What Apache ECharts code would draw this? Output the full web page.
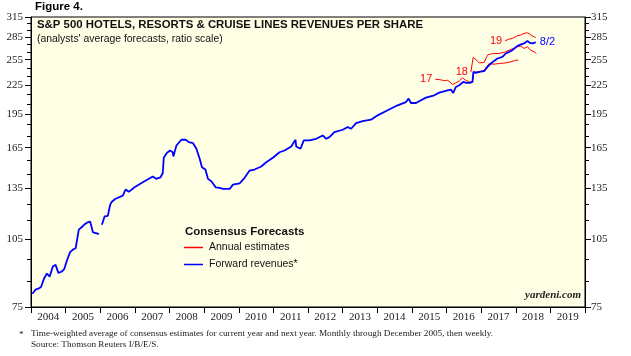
<!DOCTYPE html>
<html><head><meta charset="utf-8">
<script src="https://cdn.jsdelivr.net/npm/echarts@6/dist/echarts.min.js"></script>
<style>html,body{margin:0;padding:0;background:#fff}#c{width:631px;height:356px}</style>
</head><body><div id="c"></div>
<script>
// ---------- DATA ----------
const yearLabels = [2004,2005,2006,2007,2008,2009,2010,2011,2012,2013,2014,2015,2016,2017,2018,2019];
const yMajorTicks = [75,105,135,165,195,225,255,285,315];
const yMinorTicks = [85,95,115,125,145,155,175,185,205,215,235,245,265,275,295,305];

// Forward revenues, monthly 2004-2005
const monthlyDates = [2004.04,2004.13,2004.21,2004.29,2004.38,2004.46,2004.54,2004.63,2004.71,2004.79,2004.88,2004.96,
  2005.04,2005.13,2005.21,2005.29,2005.38,2005.46,2005.54,2005.63,2005.71,2005.79,2005.88,2005.96];
const monthlyValues = [80.1,81.7,82.1,82.8,86.5,88.5,87.2,91.6,92.4,88.8,89.3,90.5,
  94.5,98.4,99.6,100.3,110.0,111.3,112.8,114.0,114.4,108.5,108.1,107.6];

// Forward revenues, weekly from 2006
const weeklyDates = [2006.047,2006.084,2006.125,2006.220,2006.240,2006.286,2006.335,2006.430,2006.652,2006.730,2006.825,2006.989,
  2007.229,2007.517,2007.612,2007.739,2007.805,2007.834,2007.929,2008.016,2008.093,2008.113,2008.151,2008.200,2008.238,2008.344,
  2008.468,2008.555,2008.679,2008.777,2008.872,2008.938,2009.036,2009.111,2009.209,2009.333,2009.448,2009.543,2009.737,2009.832,
  2010.025,2010.169,2010.313,2010.457,2010.650,2010.794,2011.005,2011.178,2011.322,2011.515,2011.639,2011.659,2011.783,2011.878,
  2012.043,2012.236,2012.426,2012.524,2012.619,2012.763,2013.003,2013.147,2013.245,2013.389,2013.579,2013.821,2014.012,2014.300,
  2014.588,2014.830,2014.905,2014.975,2015.119,2015.263,2015.407,2015.646,2015.790,2016.029,2016.127,2016.194,2016.271,2016.367,
  2016.482,2016.577,2016.675,2016.750,2016.779,2016.848,2016.943,2017.087,2017.183,2017.281,2017.375,2017.471,2017.520,2017.615,
  2017.713,2017.808,2017.903,2018.018,2018.096,2018.145,2018.240,2018.336,2018.405,2018.480,2018.578];
const weeklyValues = [112.7,112.0,117.4,117.8,116.8,124.5,126.3,128.0,130.1,134.1,132.6,135.6,
  139.0,143.0,141.4,142.5,145.4,156.9,160.9,162.7,161.3,158.0,161.9,166.8,168.2,171.6,
  171.6,169.6,168.7,164.1,156.2,149.8,148.1,141.4,139.7,135.6,135.2,134.5,134.5,137.4,
  138.3,142.1,147.3,148.1,150.3,153.5,157.4,161.3,162.7,166.0,171.6,166.0,164.1,171.0,
  171.0,172.4,175.3,172.4,173.8,178.2,180.3,182.7,181.2,186.3,188.2,189.5,193.6,198.5,
  203.5,206.8,210.3,205.8,205.8,208.6,211.4,213.8,216.7,219.2,219.9,216.3,222.8,224.7,
  228.4,227.3,227.3,228.4,240.0,238.8,240.0,240.9,246.1,250.2,253.5,256.5,254.4,258.6,
  263.0,265.1,267.3,271.8,274.1,271.8,276.4,279.6,277.2,276.4,277.8];

// Annual estimates
const est17Dates = [2015.675,2015.790,2015.934,2016.029,2016.098,2016.173,2016.271,2016.367,2016.462,2016.560,2016.655,2016.750,
  2016.779,2016.943,2017.087,2017.231,2017.375,2017.520,2017.713,2017.857,2018.001,2018.076];
const est17Values = [231.5,231.1,230.0,230.3,228.4,225.5,227.3,229.5,233.0,230.3,228.4,228.4,
  240.0,240.0,242.1,250.2,249.4,250.2,251.0,252.3,254.4,254.4];
const est18Dates = [2016.704,2016.750,2016.770,2016.848,2016.943,2017.087,2017.183,2017.327,2017.520,2017.713,2017.808,2017.952,
  2018.047,2018.145,2018.240,2018.336,2018.434,2018.530,2018.596];
const est18Values = [240.0,242.1,257.8,255.3,251.0,251.5,260.8,263.0,263.0,265.1,267.3,270.0,
  271.8,272.7,269.6,271.8,267.3,265.1,263.0];
const est19Dates = [2017.693,2017.808,2017.903,2018.047,2018.145,2018.240,2018.336,2018.405,2018.480,2018.578];
const est19Values = [280.0,282.4,283.3,287.0,288.0,290.5,291.3,289.5,286.6,284.7];

// ---------- CHART ----------
const LN = Math.log;
const pairs = (d, v) => d.map((x, i) => [x, LN(v[i])]);
const SERIF = "'Liberation Serif','Times New Roman',serif";
const SANS = "'Liberation Sans',Arial,sans-serif";
const BLUE = '#0000FF', RED = '#FF0000';
const yMin = LN(75), yMax = LN(315);

const yAx = (grid, pos, ticks, len, labels) => ({
  type: 'value', gridIndex: grid, position: pos, min: yMin, max: yMax,
  axisLine: {show: labels, lineStyle: {color: '#000', width: 1}},
  splitLine: {show: false},
  axisTick: {show: true, customValues: ticks.map(LN), length: len, lineStyle: {color: '#000'}},
  axisLabel: labels ? {show: true, customValues: ticks.map(LN), formatter: v => String(Math.round(Math.exp(v))),
    fontFamily: SERIF, fontSize: 11, color: '#222', margin: pos === 'left' ? 8 : 6} : {show: false}
});

const lineS = (name, data, color, width, extra) => Object.assign({
  type: 'line', name, data, showSymbol: false, symbol: 'none', smooth: false,
  lineStyle: {color, width}, itemStyle: {color}, xAxisIndex: 0, yAxisIndex: 0, z: 3
}, extra || {});

const option = {
  animation: false,
  backgroundColor: '#fff',
  grid: [
    {left: 31, right: 46, top: 17, bottom: 49, show: true, backgroundColor: '#FFFFE6', borderColor: '#000', borderWidth: 1},
    {left: 31, right: 46, top: 17, bottom: 49, show: false}
  ],
  xAxis: [
    {type: 'value', gridIndex: 0, min: 2004, max: 2020,
     axisLine: {lineStyle: {color: '#000'}}, splitLine: {show: false},
     axisTick: {customValues: yearLabels.concat([2020]), length: 6, lineStyle: {color: '#000'}},
     axisLabel: {customValues: yearLabels.map(y => y + 0.5), formatter: v => String(Math.floor(v)),
       fontFamily: SERIF, fontSize: 11, color: '#222', margin: 5}},
    {type: 'value', gridIndex: 1, min: 2004, max: 2020, show: false}
  ],
  yAxis: [
    yAx(0, 'left', yMajorTicks, 6, true),
    yAx(0, 'right', yMajorTicks, 6, true),
    yAx(1, 'left', yMinorTicks, 4, false),
    yAx(1, 'right', yMinorTicks, 4, false)
  ],
  legend: {
    left: 184, top: 242, orient: 'vertical', itemWidth: 19, itemHeight: 1.5, itemGap: 6, icon: 'rect',
    padding: 0, selectedMode: false,
    textStyle: {fontFamily: SANS, fontSize: 10.5, color: '#111', padding: [0, 0, 0, 1]},
    data: ['Annual estimates', 'Forward revenues*']
  },
  series: [
    lineS('Annual estimates', pairs(est17Dates, est17Values), RED, 1),
    lineS('Annual estimates', pairs(est18Dates, est18Values), RED, 1),
    lineS('Annual estimates', pairs(est19Dates, est19Values), RED, 1),
    lineS('Forward revenues*', pairs(monthlyDates, monthlyValues), BLUE, 1.8),
    lineS('Forward revenues*', pairs(weeklyDates, weeklyValues), BLUE, 1.8, {
      endLabel: {show: true, formatter: '8/2', color: BLUE, fontFamily: SANS, fontSize: 11, distance: 4}
    })
  ]
};

const chart = echarts.init(document.getElementById('c'), null, {renderer: 'canvas'});
chart.setOption(option);

const startLabel = (dates, vals, text) => {
  const p = chart.convertToPixel({gridIndex: 0}, [dates[0], LN(vals[0])]);
  return {type: 'text', x: p[0] - 3, y: p[1], z: 10,
    style: {text, fill: RED, font: '11px ' + SANS, textAlign: 'right', textVerticalAlign: 'middle'}};
};

chart.setOption({graphic: [
  {type: 'text', left: 35, top: 1, style: {text: 'Figure 4.', fill: '#000', font: 'bold 11.5px ' + SANS}},
  {type: 'text', left: 37, top: 19, z: 10, style: {text: 'S&P 500 HOTELS, RESORTS & CRUISE LINES REVENUES PER SHARE', fill: '#111', font: 'bold 11.4px ' + SANS}},
  {type: 'text', left: 37, top: 34, z: 10, style: {text: "(analysts' average forecasts, ratio scale)", fill: '#111', font: '10.4px ' + SANS}},
  {type: 'text', left: 185, top: 226, z: 10, style: {text: 'Consensus Forecasts', fill: '#111', font: 'bold 11.5px ' + SANS}},
  {type: 'text', right: 50, top: 290, z: 10, style: {text: 'yardeni.com', fill: '#222', font: 'italic bold 11px ' + SERIF}},
  {type: 'text', left: 19, top: 330, style: {text: '*', fill: '#222', font: '9.2px ' + SERIF}},
  {type: 'text', left: 31, top: 329, style: {text: 'Time-weighted average of consensus estimates for current year and next year. Monthly through December 2005, then weekly.', fill: '#222', font: '9.2px ' + SERIF}},
  {type: 'text', left: 31, top: 340, style: {text: 'Source: Thomson Reuters I/B/E/S.', fill: '#222', font: '9.2px ' + SERIF}},
  startLabel(est17Dates, est17Values, '17'),
  startLabel(est18Dates, est18Values, '18'),
  startLabel(est19Dates, est19Values, '19')
]});
</script>
</body></html>
